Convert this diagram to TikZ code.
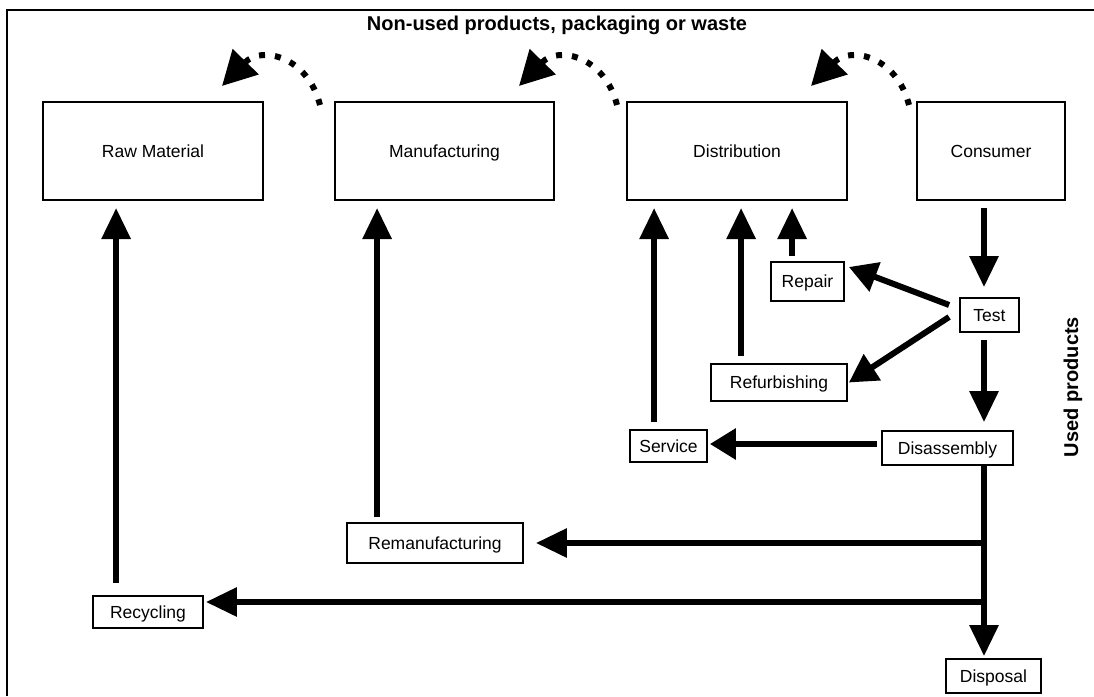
\documentclass[tikz,border=0pt]{standalone}
\usepackage{fontspec}
\setmainfont{Liberation Sans}
\usetikzlibrary{arrows.meta,calc}
\begin{document}
\begin{tikzpicture}[x=1pt,y=-1pt,
  labelfont/.style={font=\fontsize{17.5}{20}\selectfont,text height=12.6pt,text depth=0pt},
  bigbox/.style={draw,line width=2pt,inner sep=0pt,minimum height=98pt,labelfont},
  smallbox/.style={draw,line width=1.8pt,inner sep=0pt,labelfont},
  flow/.style={line width=6pt,-{Triangle[length=31pt,width=28pt]}},
  feed/.style={line width=6pt},
  waste/.style={line width=6pt,dash pattern=on 6pt off 10pt,-{Triangle[length=34pt,width=35pt]}},
  heading/.style={font=\bfseries\fontsize{20}{24}\selectfont}]
\useasboundingbox (0,0) rectangle (1094,696);
% frame
\draw[line width=2pt] (7,696) -- (7,10) -- (1094,10);

% life-cycle stages
\node[bigbox,minimum width=220pt] (raw)  at (153,151)   {Raw Material};
\node[bigbox,minimum width=219pt] (mf)   at (444.5,151) {Manufacturing};
\node[bigbox,minimum width=220pt] (dist) at (737,151)   {Distribution};
\node[bigbox,minimum width=148pt] (cons) at (991,151)   {Consumer};

% recovery options
\node[smallbox,minimum width=73pt,minimum height=39pt]  (repair)  at (807.5,281.5) {Repair};
\node[smallbox,minimum width=136pt,minimum height=37pt] (refurb)  at (779,382.5)   {Refurbishing};
\node[smallbox,minimum width=77pt,minimum height=32pt]  (service) at (668.5,446)   {Service};
\node[smallbox,minimum width=59pt,minimum height=34pt]  (test)    at (989.5,315)   {Test};
\node[smallbox,minimum width=131pt,minimum height=34pt] (disas)   at (947.5,448)   {Disassembly};
\node[smallbox,minimum width=95pt,minimum height=34pt]  (disp)    at (993.5,676)   {Disposal};
\node[smallbox,minimum width=176pt,minimum height=40pt] (reman)   at (435,543)     {Remanufacturing};
\node[smallbox,minimum width=110pt,minimum height=32pt] (recyc)   at (148,612)     {Recycling};

% captions
\node[heading] (top) at (557,25) {Non-used products, packaging or waste};
\node[heading,rotate=90] (used) at (1073,387) {Used products};

% waste returned from each stage
\foreach \b/\dx/\n in {mf/-14/w1, dist/-9/w2, cons/-7/w3}{
  \coordinate (\n s) at ($(\b.north west)+(\dx,4)$);
  \coordinate (\n e) at ($(\n s)+(-98,-19)$);
  \draw[waste] (\n s) .. controls ($(\n s)+(-12,-48)$) and ($(\n e)+(40,-41)$) .. (\n e);
}

% used products down the right-hand spine
\coordinate (sp) at ([xshift=-7pt]cons.south);
\draw[flow,shorten <=7pt,shorten >=10pt] (sp) -- (sp |- test.north);
\draw[flow,shorten <=7pt,shorten >=8pt] (sp |- test.south) -- (sp |- disas.north);
\draw[flow,shorten >=2pt] (sp |- disas.south) -- (sp |- disp.north);

% test outcomes
\coordinate (t1) at ($(test.west)+(-10,-10)$);
\coordinate (t2) at ($(test.west)+(-10,2)$);
\coordinate (r1) at ($(repair.east)+(4,-14.5)$);
\coordinate (r2) at ($(refurb.east)+(1,0)$);
\draw[flow,-{Triangle[length=28pt,width=30pt]}] (t1) -- (r1);
\draw[flow,-{Triangle[length=28pt,width=30pt]}] (t2) -- (r2);

% disassembly to service
\coordinate (d1) at ($(disas.west)+(-4,-4)$);
\draw[flow,-{Triangle[length=26pt,width=30pt]},shorten >=2pt] (d1) -- (d1 -| service.east);

% disassembly branches
\coordinate (b1) at (sp |- reman.east);
\draw[feed] (sp |- disas.south) -- (b1);
\draw[flow,shorten >=12pt] (b1) -- (reman.east);
\coordinate (rc) at ($(recyc.east)+(0,-10)$);
\coordinate (b2) at (sp |- rc);
\draw[flow,shorten >=2pt] (b2) -- (rc);

% back into the chain
\coordinate (u1) at ($(recyc.north west)+(24,0)$);
\coordinate (u2) at ($(reman.north west)+(31,0)$);
\coordinate (u3) at ($(service.north west)+(25,0)$);
\coordinate (u4) at ($(refurb.north west)+(31,0)$);
\coordinate (u5) at ($(repair.north west)+(22,0)$);
\draw[flow,shorten <=12pt,shorten >=7pt] (u1) -- (u1 |- raw.south);
\draw[flow,shorten <=5pt,shorten >=7pt]  (u2) -- (u2 |- mf.south);
\draw[flow,shorten <=7pt,shorten >=7pt]  (u3) -- (u3 |- dist.south);
\draw[flow,shorten <=7pt,shorten >=7pt]  (u4) -- (u4 |- dist.south);
\draw[flow,shorten <=5pt,shorten >=7pt]  (u5) -- (u5 |- dist.south);
\end{tikzpicture}
\end{document}
